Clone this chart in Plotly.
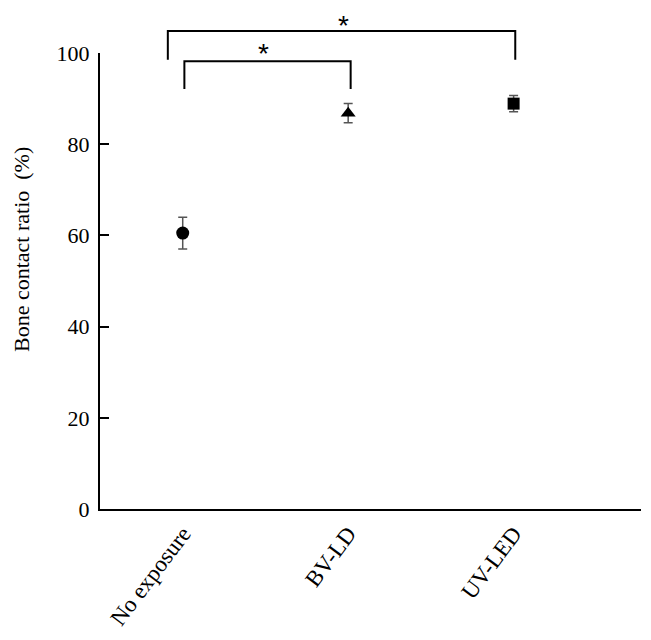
import plotly.graph_objects as go

categories = ["No exposure", "BV-LD", "UV-LED"]
means = [60.5, 86.8, 88.9]
errors = [3.5, 2.1, 1.8]
symbols = ["circle", "triangle-up", "square"]
marker_sizes = [13, 13, 12]
y_ticks = [0, 20, 40, 60, 80, 100]
y_range = [0, 100]
y_title = "Bone contact ratio  (%)"

# significance comparisons: (group a, group b, label)
comparisons = [(0, 1, "*"), (0, 2, "*")]

FONT = "Liberation Serif, Times New Roman, serif"

fig = go.Figure()
xs = list(range(len(categories)))
for i, (m, e, s, ms) in enumerate(zip(means, errors, symbols, marker_sizes)):
    fig.add_trace(go.Scatter(
        x=[xs[i]], y=[m], mode="markers",
        marker=dict(symbol=s, size=ms, color="black"),
        error_y=dict(type="data", array=[e], visible=True,
                     color="#555555", thickness=1.5, width=4.5),
        showlegend=False, cliponaxis=False,
    ))


def to_paper(v):
    return (v - y_range[0]) / (y_range[1] - y_range[0])


# bracket geometry (offsets from category centres, heights in data units)
bracket_specs = [
    dict(dx0=0.01, dx1=0.015, top=98.2, low0=92.1, low1=92.1, star=(0.49, 103.4)),
    dict(dx0=-0.09, dx1=0.01, top=104.8, low0=98.5, low1=98.5, star=(0.97, 109.6)),
]
for (a, b, lab), sp in zip(comparisons, bracket_specs):
    xa = xs[a] + sp["dx0"]
    xb = xs[b] + sp["dx1"]
    path = (f"M {xa} {to_paper(sp['low0'])} L {xa} {to_paper(sp['top'])} "
            f"L {xb} {to_paper(sp['top'])} L {xb} {to_paper(sp['low1'])}")
    fig.add_shape(type="path", path=path, xref="x", yref="paper",
                  line=dict(color="black", width=2))
    fig.add_annotation(x=sp["star"][0], y=to_paper(sp["star"][1]), xref="x", yref="paper",
                       text=lab, showarrow=False,
                       font=dict(family="Liberation Sans, Arial", size=28, color="black"),
                       yanchor="top", borderpad=0)

# y-axis title (placed above centre, as in the original)
fig.add_annotation(x=0, y=0.568, xref="paper", yref="paper", text=y_title,
                   textangle=-90, showarrow=False, xanchor="center", yanchor="middle",
                   xshift=-78, font=dict(family=FONT, size=22, color="black"))

# page body has an 8px margin, so the figure is shifted by 8px right and down
fig.update_layout(
    width=643, height=632,
    margin=dict(l=92, r=10, t=45, b=131),
    plot_bgcolor="white", paper_bgcolor="white",
    font=dict(family=FONT, size=21, color="black"),
    xaxis=dict(
        range=[-0.5, 2.77], tickmode="array", tickvals=xs, ticktext=categories,
        tickangle=-53, showline=True, linecolor="black", linewidth=2,
        ticks="", showgrid=False, zeroline=False, automargin=False,
        tickfont=dict(family=FONT, size=23),
    ),
    yaxis=dict(
        range=y_range, tickmode="array", tickvals=y_ticks,
        ticks="inside", ticklen=9, tickwidth=1.5, tickcolor="black",
        showline=True, linecolor="black", linewidth=2,
        showgrid=False, zeroline=False, automargin=False,
        ticklabelstandoff=4,
        tickfont=dict(family=FONT, size=22),
    ),
)

fig.write_html("out.html")
